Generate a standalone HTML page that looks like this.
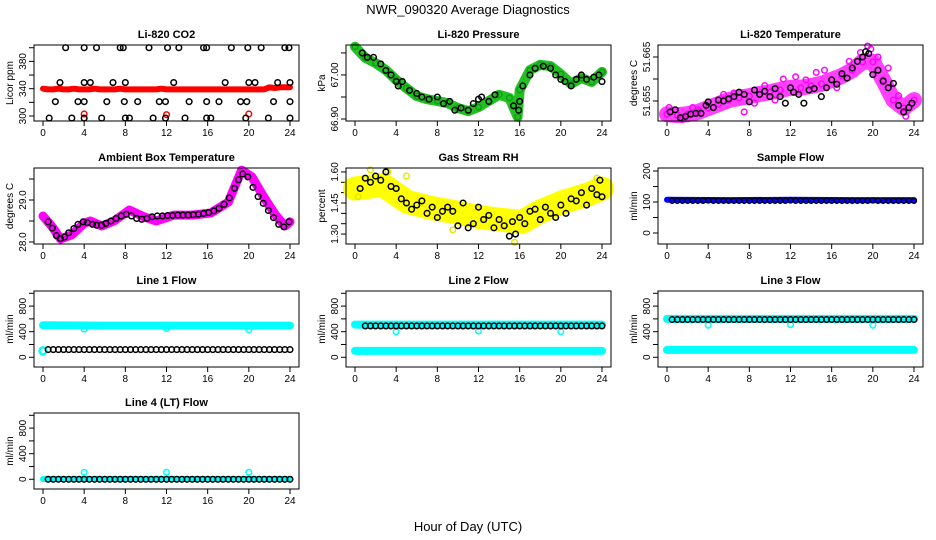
<!DOCTYPE html>
<html><head><meta charset="utf-8"><style>
html,body{margin:0;padding:0;background:#fff;}
svg{display:block;font-family:"Liberation Sans",sans-serif;}
</style></head><body>
<svg id="chart" width="936" height="540" viewBox="0 0 936 540">
<text x="468" y="14" font-size="13" text-anchor="middle">NWR_090320  Average Diagnostics</text>
<text x="468" y="531" font-size="13" text-anchor="middle">Hour of Day (UTC)</text>
</svg>
<script>
// ---------- data ----------
const xTicks = [0,4,8,12,16,20,24];
// CO2
const co2BlackHours = [2.2,4.0,5.2,7.5,7.8,10.3,12.1,13.2,15.6,15.9,18.3,19.9,21.2,23.5,23.9,1.65,4.0,4.6,6.8,8.0,12.7,17.7,20.0,20.6,22.8,24.0,1.2,3.4,4.0,6.2,7.9,9.2,11.3,11.9,14.2,15.9,17.1,19.2,19.8,22.4,24.0,0.6,2.8,4.0,5.7,8.0,8.4,10.7,11.9,13.8,15.9,16.3,19.7,21.9,24.0];
const co2BlackVals = [400,400,400,400,400,400,400,400,400,400,400,400,400,400,400,349,349,349,349,349,349,349,349,349,349,349,321,321,321,321,321,321,321,321,321,321,321,321,321,321,321,297,297,297,297,297,297,297,297,297,297,297,297,297,297];
const halfHours = [0,0.5,1,1.5,2,2.5,3,3.5,4,4.5,5,5.5,6,6.5,7,7.5,8,8.5,9,9.5,10,10.5,11,11.5,12,12.5,13,13.5,14,14.5,15,15.5,16,16.5,17,17.5,18,18.5,19,19.5,20,20.5,21,21.5,22,22.5,23,23.5,24];
const co2RedVals = [340,339,339,340,339,339,340,339,339,339,340,339,339,339,339,340,339,339,339,339,339,339,339,340,339,339,339,339,339,339,339,339,339,339,339,339,339,339,339,339,339,339,339,339,342,341,342,342,342];
const co2RedOutHours = [4,12,20];
const co2RedOutVals = [303,302,303];
// Pressure
const pressHours = [0,1,2,3,4,5,6,7,8,9,10,11,12,13,14,15,15.8,16,17,18,19,20,21,22,23,24];
const pressVals = [67.064,67.039,67.027,67.011,66.989,66.970,66.952,66.945,66.941,66.936,66.925,66.918,66.927,66.941,66.955,66.948,66.905,66.966,67.011,67.023,67.020,67.002,66.980,66.993,66.984,67.007];
const pressBlackHours = [0.7,1.2,1.8,2.5,3.0,3.5,4.0,4.2,4.6,5.3,6.0,6.5,7.2,8.0,8.6,9.2,9.7,10.3,11.0,11.5,12.0,12.3,13.0,13.6,15.4,15.9,16.0,16.3,17.0,17.5,18.3,19.0,19.5,20.0,20.4,21.0,21.5,22.0,22.5,23.2,23.7,24.0];
const pressBlackVals = [67.05,67.04,67.04,67.025,67.01,67.0,66.985,66.975,66.985,66.965,66.958,66.95,66.945,66.95,66.935,66.94,66.92,66.925,66.92,66.935,66.945,66.95,66.94,66.955,66.93,66.92,66.94,66.975,67.0,67.015,67.02,67.015,67.0,66.99,66.985,66.975,66.99,67.0,66.99,66.995,67.0,66.985];
// Temperature
const tempHours = [0,1,2,3,4,5,6,7,8,9,10,11,12,13,14,15,16,17,18,19,20,21,22,23,24];
const tempVals = [51.6520,51.6518,51.6520,51.6525,51.6534,51.6543,51.6552,51.6557,51.6561,51.6566,51.6570,51.6575,51.6580,51.6580,51.6584,51.6589,51.6598,51.6607,51.6620,51.6639,51.6639,51.6598,51.6552,51.6534,51.6552];
const tempMagHours = [0.2,3,5.5,7.5,9.5,11.3,12.5,14.5,15.3,17.7,18.8,19.5,19.8,21.5,22.5,23.2,1.5,2.5,6.5,8.5,10.5,13.5,16.5,20.5];
const tempMagVals = [51.6535,51.6530,51.6565,51.6525,51.6585,51.6600,51.6605,51.6615,51.6620,51.6640,51.6660,51.6675,51.6668,51.6625,51.6562,51.6515,51.6508,51.6535,51.6568,51.6545,51.6552,51.6598,51.6580,51.6650];
const tempBlackHours = [0.3,0.8,1.3,1.8,2.3,2.8,3.3,3.8,4.0,4.5,5.0,5.5,6.0,6.5,7.0,7.5,8.0,8.5,9.0,9.5,10.0,10.5,11.0,11.5,12.0,12.3,12.8,13.3,13.8,14.3,15.0,15.5,16.0,16.5,17.0,17.5,18.0,18.5,19.0,19.3,19.6,20.0,20.5,21.0,21.5,22.0,22.5,23.0,23.5,23.8];
const tempBlackVals = [51.6525,51.6530,51.6512,51.6515,51.6520,51.6522,51.6522,51.6540,51.6548,51.6535,51.6552,51.6550,51.6555,51.6560,51.6570,51.6565,51.6548,51.6575,51.6565,51.6572,51.6560,51.6578,51.6560,51.6545,51.6580,51.6570,51.6565,51.6545,51.6575,51.6578,51.6560,51.6580,51.6598,51.6588,51.6612,51.6602,51.6625,51.6640,51.6650,51.6662,51.6658,51.6610,51.6620,51.6595,51.6580,51.6590,51.6540,51.6525,51.6535,51.6545];
// Ambient
const ambHours = [0,0.9,1.7,2.8,4.0,4.6,5.7,6.9,8.4,9.8,11.0,12.7,14.5,16.3,18.0,19.3,20.3,21.5,22.6,23.5,24];
const ambVals = [28.62,28.36,28.07,28.17,28.45,28.50,28.38,28.50,28.76,28.60,28.50,28.64,28.64,28.69,28.95,29.71,29.55,29.05,28.64,28.38,28.48];
const ambBlackHours = [0.5,0.9,1.3,1.7,2.1,2.5,3.0,3.4,3.9,4.3,4.8,5.2,5.7,6.1,6.6,7.1,7.6,8.1,8.6,9.1,9.6,10.1,10.6,11.1,11.6,12.1,12.6,13.1,13.6,14.1,14.6,15.1,15.6,16.1,16.6,17.1,17.6,18.1,18.6,19.0,19.4,19.9,20.4,20.9,21.4,21.9,22.4,22.9,23.4,23.9];
const ambBlackVals = [28.48,28.33,28.15,28.08,28.12,28.22,28.32,28.42,28.48,28.46,28.42,28.40,28.40,28.44,28.50,28.56,28.62,28.66,28.62,28.56,28.54,28.56,28.60,28.62,28.62,28.63,28.63,28.64,28.64,28.64,28.65,28.66,28.68,28.70,28.74,28.80,28.90,29.05,29.28,29.48,29.62,29.55,29.30,29.08,28.92,28.75,28.58,28.42,28.36,28.48];
// RH
const rhHours = [0,2.7,5.1,7.4,9.7,12.1,14.4,16.2,17.9,20.2,22.5,24];
const rhVals = [1.52,1.537,1.455,1.426,1.406,1.382,1.368,1.358,1.406,1.455,1.489,1.52];
const rhYellowOutHours = [1.5,3.2,15.5,5,23.5,0.3,9.5];
const rhYellowOutVals = [1.61,1.60,1.26,1.58,1.57,1.48,1.32];
const rhBlackHours = [0.5,1.0,1.5,2.0,2.5,3.0,3.5,4.0,4.5,5.0,5.5,6.0,6.5,7.0,7.5,8.0,8.5,9.0,9.5,10.0,10.5,11.0,11.5,12.0,12.5,13.0,13.5,14.0,14.5,15.0,15.3,15.6,16.0,16.5,17.0,17.5,18.0,18.5,19.0,19.5,20.0,20.5,21.0,21.5,22.0,22.5,23.0,23.5,23.8,24.0];
const rhBlackVals = [1.52,1.57,1.55,1.58,1.56,1.60,1.53,1.52,1.47,1.45,1.42,1.44,1.46,1.40,1.43,1.38,1.41,1.43,1.41,1.34,1.45,1.33,1.35,1.43,1.37,1.39,1.33,1.37,1.34,1.29,1.36,1.30,1.38,1.35,1.41,1.42,1.37,1.43,1.40,1.38,1.44,1.40,1.47,1.46,1.50,1.44,1.52,1.49,1.56,1.48];
// Flows
const flowBandHours = [0,6,12,18,24];
const sampleBlueVals = [107,106,107,106,106];
const flowBlackHours = [0.5,1,1.5,2,2.5,3,3.5,4,4.5,5,5.5,6,6.5,7,7.5,8,8.5,9,9.5,10,10.5,11,11.5,12,12.5,13,13.5,14,14.5,15,15.5,16,16.5,17,17.5,18,18.5,19,19.5,20,20.5,21,21.5,22,22.5,23,23.5,24];
const sampleBlackVals = [104,104,104,104,104,104,104,105,104,104,104,104,104,104,104,104,104,104,104,104,104,104,104,105,104,104,104,104,104,104,104,104,104,104,104,104,104,104,104,105,104,104,104,104,104,104,104,104];
const line1CyanHi = [500,495,495,495,495];
const line1CyanLo = [100];
const line1Black = [120,120,120,120,120,120,120,120,120,120,120,120,120,120,120,120,120,120,120,120,120,120,120,120,120,120,120,120,120,120,120,120,120,120,120,120,120,120,120,120,120,120,120,120,120,120,120,120];
const dipHours = [4,12,20];
const line1Dips = [440,450,430];
const line2CyanHi = [510,510,510,510,510];
const line2CyanLo = [100,100,100,100,100];
const line2Black = [null,490,490,490,490,490,490,490,490,490,490,490,490,490,490,490,490,490,490,490,490,490,490,490,490,490,490,490,490,490,490,490,490,490,490,490,490,490,490,490,490,490,490,490,490,490,490,490];
const line2Dips = [400,410,400];
const line3CyanHi = [600,600,600,600,600];
const line3CyanLo = [115,115,115,115,115];
const line3Black = [590,590,590,590,590,590,590,590,590,590,590,590,590,590,590,590,590,590,590,590,590,590,590,590,590,590,590,590,590,590,590,590,590,590,590,590,590,590,590,590,590,590,590,590,590,590,590,590];
const line3Dips = [500,510,500];
const line4Cyan = [5,5,5,5,5];
const line4Black = [0,0,0,0,0,0,0,0,0,0,0,0,0,0,0,0,0,0,0,0,0,0,0,0,0,0,0,0,0,0,0,0,0,0,0,0,0,0,0,0,0,0,0,0,0,0,0,0];
const line4Peaks = [110,110,110];

// ---------- drawing ----------
const NS = "http://www.w3.org/2000/svg";
const svg = document.getElementById("chart");
const COLS = [34, 346, 658], ROWS = [45, 168, 291, 413], W = 265, H = 76;
function mk(tag, attrs, parent) {
  const e = document.createElementNS(NS, tag);
  for (const k in attrs) e.setAttribute(k, attrs[k]);
  (parent || svg).appendChild(e);
  return e;
}
function panel(col, row, title, ytitle, ymin, ymax, yTicks, yLabels, slug) {
  const L = COLS[col], T = ROWS[row];
  const g = mk("g", {});
  
  
  const xs = h => L + 9 + h * 247 / 24;
  const ys = v => T + (ymax - v) / (ymax - ymin) * H;
  const t = mk("text", {x: L + W / 2, y: T - 7, "font-size": 11, "font-weight": "bold", "text-anchor": "middle"}, g);
  t.textContent = title;
  
  
  const yt = mk("text", {x: 0, y: 0, "font-size": 10, "text-anchor": "middle", transform: `translate(${L - 21},${T + H / 2}) rotate(-90)`}, g);
  yt.textContent = ytitle;
  
  
  for (const h of xTicks) {
    mk("line", {x1: xs(h), x2: xs(h), y1: T + H, y2: T + H + 5, stroke: "#000"}, g);
    const tx = mk("text", {x: xs(h), y: T + H + 15, "font-size": 10, "text-anchor": "middle"}, g);
    tx.textContent = h;
    
    
  }
  yTicks.forEach(v => mk("line", {x1: L - 5, x2: L, y1: ys(v), y2: ys(v), stroke: "#000"}, g));
  yLabels.forEach(v => {
    const lab = typeof v === "number" ? String(v) : v;
    const tl = mk("text", {x: 0, y: 0, "font-size": 10, "text-anchor": "middle", transform: `translate(${L - 8},${ys(parseFloat(lab))}) rotate(-90)`}, g);
    tl.textContent = lab;
    
    
  });
  const data = mk("g", {}, g);
  mk("rect", {x: L, y: T, width: W, height: H, fill: "none", stroke: "#000"}, g);
  return {xs, ys, g: data};
}
function band(p, hours, vals, color, w, name) {
  const pts = hours.map((h, i) => p.xs(h).toFixed(1) + "," + p.ys(vals[i]).toFixed(1)).join(" ");
  const pl = mk("polyline", {points: pts, fill: "none", stroke: color, "stroke-width": w, "stroke-linejoin": "round", "stroke-linecap": "round"}, p.g);
  
  
}
function pts(p, hours, vals, color, name, r, sw) {
  hours.forEach((h, i) => {
    if (vals[i] === null || vals[i] === undefined) return;
    const c = mk("circle", {cx: p.xs(h), cy: p.ys(vals[i]), r: r || 2.8, fill: "none", stroke: color, "stroke-width": sw || 1.5}, p.g);
    
    
  });
}
function fill(n, v) { return Array(n).fill(v); }

// CO2
let p = panel(0, 0, "Li-820 CO2", "Licor ppm", 292.7, 404, [300,320,340,360,380,400], [300,340,380], "co2");
band(p, halfHours, co2RedVals, "#ff0000", 6, "co2-red-band");
pts(p, co2RedOutHours, co2RedOutVals, "#ff0000", "co2-red-point");
pts(p, co2BlackHours, co2BlackVals, "#000", "co2-black-point");
// Pressure
p = panel(1, 0, "Li-820 Pressure", "kPa", 66.8955, 67.068, [66.90,66.95,67.00,67.05], ["66.90","67.00"], "pressure");
band(p, pressHours, pressVals, "#22c022", 10, "pressure-green-band");
pts(p, pressHours, pressVals, "#11a011", "pressure-green-point");
pts(p, pressBlackHours, pressBlackVals, "#000", "pressure-black-point");
// Temperature
p = panel(2, 0, "Li-820 Temperature", "degrees C", 51.65045, 51.66773, [51.655,51.660,51.665], ["51.655","51.665"], "temperature");
band(p, tempHours, tempVals, "#ff40ff", 16, "temperature-magenta-band");
pts(p, tempHours, tempVals, "#ff00ff", "temperature-magenta-point");
pts(p, tempMagHours, tempMagVals, "#ff00ff", "temperature-magenta-point");
pts(p, tempBlackHours, tempBlackVals, "#000", "temperature-black-point");
// Ambient
p = panel(0, 1, "Ambient Box Temperature", "degrees C", 27.952, 29.762, [28.0,28.5,29.0,29.5], ["28.0","29.0"], "ambient");
band(p, ambHours, ambVals, "#ff00ff", 9, "ambient-magenta-band");
pts(p, ambBlackHours, ambBlackVals, "#000", "ambient-black-point");
// RH
p = panel(1, 1, "Gas Stream RH", "percent", 1.252, 1.619, [1.30,1.35,1.40,1.45,1.50,1.55,1.60], ["1.30","1.45","1.60"], "rh");
band(p, rhHours, rhVals, "#ffff00", 24, "rh-yellow-band");
pts(p, rhYellowOutHours, rhYellowOutVals, "#e6e600", "rh-yellow-point");
pts(p, rhBlackHours, rhBlackVals, "#000", "rh-black-point");
// Sample flow
p = panel(2, 1, "Sample Flow", "ml/min", -35.5, 209.7, [0,50,100,150,200], [0,100,200], "sample-flow");
band(p, flowBandHours, sampleBlueVals, "#0000ff", 6, "sample-flow-blue-band");
pts(p, flowBlackHours, sampleBlackVals, "#000", "sample-flow-black-point", 2.6, 1.2);
// Line flows
const fT = [0,200,400,600,800,1000], fL = [0,400,800];
p = panel(0, 2, "Line 1 Flow", "ml/min", -152, 1036, fT, fL, "line1-flow");
band(p, flowBandHours, line1CyanHi, "#00ffff", 8, "line1-cyan-band");
pts(p, [0], line1CyanLo, "#00ffff", "line1-cyan-point", 3.5, 2.5);
pts(p, dipHours, line1Dips, "#00ffff", "line1-cyan-dip");
pts(p, flowBlackHours, line1Black, "#000", "line1-black-point");
p = panel(1, 2, "Line 2 Flow", "ml/min", -152, 1036, fT, fL, "line2-flow");
band(p, flowBandHours, line2CyanHi, "#00ffff", 8, "line2-cyan-high-band");
band(p, flowBandHours, line2CyanLo, "#00ffff", 8, "line2-cyan-low-band");
pts(p, dipHours, line2Dips, "#00ffff", "line2-cyan-dip");
pts(p, flowBlackHours, line2Black, "#000", "line2-black-point");
p = panel(2, 2, "Line 3 Flow", "ml/min", -152, 1036, fT, fL, "line3-flow");
band(p, flowBandHours, line3CyanHi, "#00ffff", 8, "line3-cyan-high-band");
band(p, flowBandHours, line3CyanLo, "#00ffff", 8, "line3-cyan-low-band");
pts(p, dipHours, line3Dips, "#00ffff", "line3-cyan-dip");
pts(p, flowBlackHours, line3Black, "#000", "line3-black-point");
p = panel(0, 3, "Line 4 (LT) Flow", "ml/min", -152, 1036, fT, fL, "line4-flow");
band(p, flowBandHours, line4Cyan, "#00ffff", 6, "line4-cyan-band");
pts(p, dipHours, line4Peaks, "#00ffff", "line4-cyan-peak");
pts(p, flowBlackHours, line4Black, "#000", "line4-black-point");
</script>
</body></html>
